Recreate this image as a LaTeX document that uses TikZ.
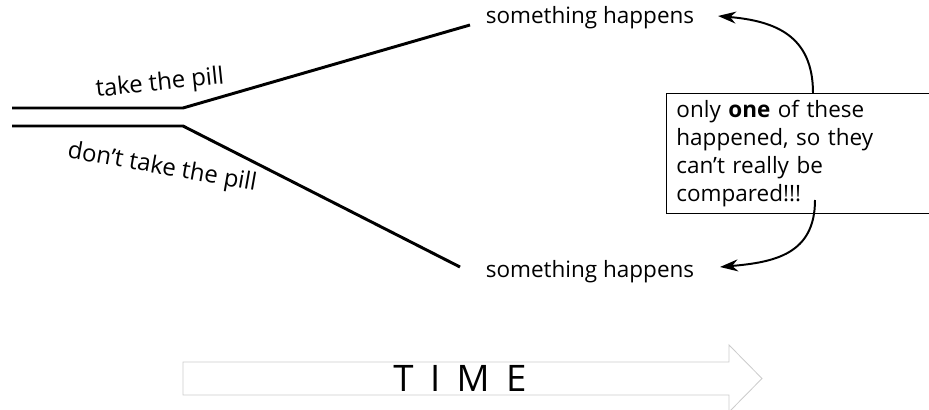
\documentclass[tikz,border=0pt]{standalone}
\usepackage{fontspec}
\setmainfont{Open Sans}
\usetikzlibrary{arrows.meta}

\begin{document}
\begin{tikzpicture}
    \useasboundingbox (0,0) rectangle (23.225,10.25);
    \tikzset{
        branch/.style={line width=2.1pt},
        words/.style={font=\fontsize{16}{20}\selectfont, inner sep=0pt},
        pointer/.style={line width=1.4pt, -{Stealth[length=4.5mm, width=3mm]}}
    }
    % The two paths: take it or not
    \coordinate (takestart) at (0.3,7.55);
    \coordinate (takebend) at (4.575,7.55);
    \coordinate (takeend) at (11.75,9.625);
    \coordinate (skipstart) at (0.3,7.1);
    \coordinate (skipbend) at (4.575,7.1);
    \coordinate (skipend) at (11.5,3.575);
    \draw[branch] (takestart) -- (takebend) -- (takeend);
    \draw[branch] (skipstart) -- (skipbend) -- (skipend);
    \node[words, font=\fontsize{17}{20}\selectfont, rotate=6] (takelabel) at (4.0,8.15) {take the pill};
    \node[words, font=\fontsize{17}{20}\selectfont, rotate=-10] (skiplabel) at (4.05,6.05) {don't take the pill};
    % Outcomes
    \node[words] (upper) at (14.75,9.8) {something happens};
    \node[words] (lower) at (14.75,3.45) {something happens};
    % Note box, cut off by the right edge
    \node[draw, line width=0.6pt, anchor=north west, align=left,
          text width=6.3cm, minimum height=3cm, inner xsep=0.25cm,
          font=\fontsize{16}{19.9}\selectfont] (note) at (16.65,7.925)
        {only \textbf{one} of these\\happened, so they\\can't really be\\compared!!!};
    % Arrows from the note to both outcomes
    \coordinate (upfrom) at (20.325,7.925);
    \coordinate (uptip) at (17.95,9.85);
    \coordinate (downfrom) at (20.375,5.25);
    \coordinate (downtip) at (18.0,3.575);
    \draw[pointer] (upfrom) to[out=90, in=-5, looseness=1.2] (uptip);
    \draw[pointer] (downfrom) to[out=-90, in=5, looseness=1.2] (downtip);
    % Time arrow
    \draw[gray!40, line width=0.6pt]
        (4.575,0.375) -- (18.225,0.375) -- (18.225,-0.05) -- (19.05,0.7875) --
        (18.225,1.625) -- (18.225,1.2) -- (4.575,1.2) -- cycle;
    \node[font=\fontsize{26}{30}\selectfont, inner sep=0pt] (time) at (11.5,0.8)
        {T\hspace{0.45em}I\hspace{0.45em}M\hspace{0.45em}E};
\end{tikzpicture}
\end{document}
